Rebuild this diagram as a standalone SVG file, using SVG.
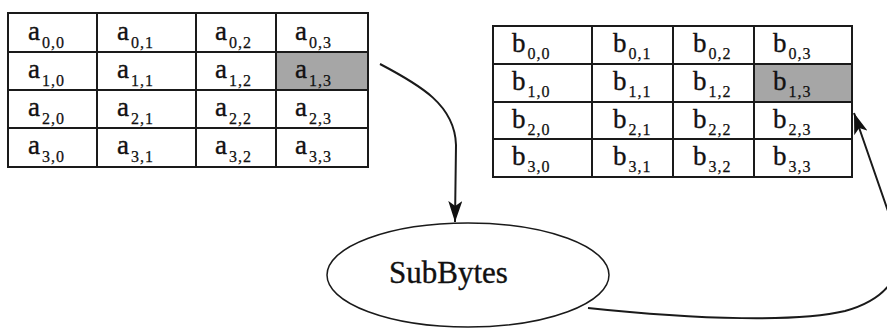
<svg xmlns="http://www.w3.org/2000/svg" width="887" height="329" viewBox="0 0 887 329">
<style>
.grid{fill:none;stroke:#1a1a1a;stroke-width:2}
.hl{fill:#a6a6a6}
.m{font-family:"Liberation Serif","Times New Roman",serif;font-size:27px;fill:#111;stroke:#111;stroke-width:0.35}
.s{font-size:16px;letter-spacing:1px;stroke-width:0.25}
.lbl{font-family:"Liberation Serif","Times New Roman",serif;font-size:31px;fill:#111;stroke:#111;stroke-width:0.35}
.con{fill:none;stroke:#1a1a1a;stroke-width:2}
</style>
<defs>
<marker id="ah" markerUnits="userSpaceOnUse" markerWidth="22" markerHeight="14" viewBox="0 0 22 14" refX="21" refY="7" orient="auto">
<path d="M0,0 L21,7 L0,14 L5,7 z" fill="#111"/>
</marker>
</defs>
<rect width="887" height="329" fill="#fff"/>
<g id="stateA">
<rect class="hl" x="276" y="52" width="92" height="38"/>
<rect class="grid" x="8" y="13" width="360" height="154"/>
<path class="grid" d="M97,13V167M196,13V167M276,13V167M8,52H368M8,90H368M8,128H368"/>
<text class="m" x="28" y="40">a<tspan class="s" dx="2" dy="8">0,0</tspan></text>
<text class="m" x="117" y="40">a<tspan class="s" dx="2" dy="8">0,1</tspan></text>
<text class="m" x="215" y="40">a<tspan class="s" dx="2" dy="8">0,2</tspan></text>
<text class="m" x="295" y="40">a<tspan class="s" dx="2" dy="8">0,3</tspan></text>
<text class="m" x="28" y="78">a<tspan class="s" dx="2" dy="8">1,0</tspan></text>
<text class="m" x="117" y="78">a<tspan class="s" dx="2" dy="8">1,1</tspan></text>
<text class="m" x="215" y="78">a<tspan class="s" dx="2" dy="8">1,2</tspan></text>
<text class="m" x="295" y="78">a<tspan class="s" dx="2" dy="8">1,3</tspan></text>
<text class="m" x="28" y="116">a<tspan class="s" dx="2" dy="8">2,0</tspan></text>
<text class="m" x="117" y="116">a<tspan class="s" dx="2" dy="8">2,1</tspan></text>
<text class="m" x="215" y="116">a<tspan class="s" dx="2" dy="8">2,2</tspan></text>
<text class="m" x="295" y="116">a<tspan class="s" dx="2" dy="8">2,3</tspan></text>
<text class="m" x="28" y="154">a<tspan class="s" dx="2" dy="8">3,0</tspan></text>
<text class="m" x="117" y="154">a<tspan class="s" dx="2" dy="8">3,1</tspan></text>
<text class="m" x="215" y="154">a<tspan class="s" dx="2" dy="8">3,2</tspan></text>
<text class="m" x="295" y="154">a<tspan class="s" dx="2" dy="8">3,3</tspan></text>
</g>
<g id="stateB">
<rect class="hl" x="754" y="64" width="98" height="38"/>
<rect class="grid" x="493" y="26" width="359" height="151"/>
<path class="grid" d="M592,26V177M673,26V177M754,26V177M493,64H852M493,102H852M493,139H852"/>
<text class="m" x="512" y="52">b<tspan class="s" dx="2" dy="7">0,0</tspan></text>
<text class="m" x="613" y="52">b<tspan class="s" dx="2" dy="7">0,1</tspan></text>
<text class="m" x="693" y="52">b<tspan class="s" dx="2" dy="7">0,2</tspan></text>
<text class="m" x="773" y="52">b<tspan class="s" dx="2" dy="7">0,3</tspan></text>
<text class="m" x="512" y="90">b<tspan class="s" dx="2" dy="7">1,0</tspan></text>
<text class="m" x="613" y="90">b<tspan class="s" dx="2" dy="7">1,1</tspan></text>
<text class="m" x="693" y="90">b<tspan class="s" dx="2" dy="7">1,2</tspan></text>
<text class="m" x="773" y="90">b<tspan class="s" dx="2" dy="7">1,3</tspan></text>
<text class="m" x="512" y="128">b<tspan class="s" dx="2" dy="7">2,0</tspan></text>
<text class="m" x="613" y="128">b<tspan class="s" dx="2" dy="7">2,1</tspan></text>
<text class="m" x="693" y="128">b<tspan class="s" dx="2" dy="7">2,2</tspan></text>
<text class="m" x="773" y="128">b<tspan class="s" dx="2" dy="7">2,3</tspan></text>
<text class="m" x="512" y="165">b<tspan class="s" dx="2" dy="7">3,0</tspan></text>
<text class="m" x="613" y="165">b<tspan class="s" dx="2" dy="7">3,1</tspan></text>
<text class="m" x="693" y="165">b<tspan class="s" dx="2" dy="7">3,2</tspan></text>
<text class="m" x="773" y="165">b<tspan class="s" dx="2" dy="7">3,3</tspan></text>
</g>
<g id="subbytes">
<ellipse cx="468" cy="275" rx="141" ry="52" fill="#fff" stroke="#1a1a1a" stroke-width="1.5"/>
<text class="lbl" x="389" y="283">SubBytes</text>
</g>
<g id="connectors">
<path class="con" marker-end="url(#ah)" d="M380,64 C420,85 455,105 456,145 L455,222"/>
<path class="con" marker-end="url(#ah)" d="M588,308 C700,320 800,322 845,311 C885,300 906,275 898,240 L854,113"/>
</g>
</svg>
